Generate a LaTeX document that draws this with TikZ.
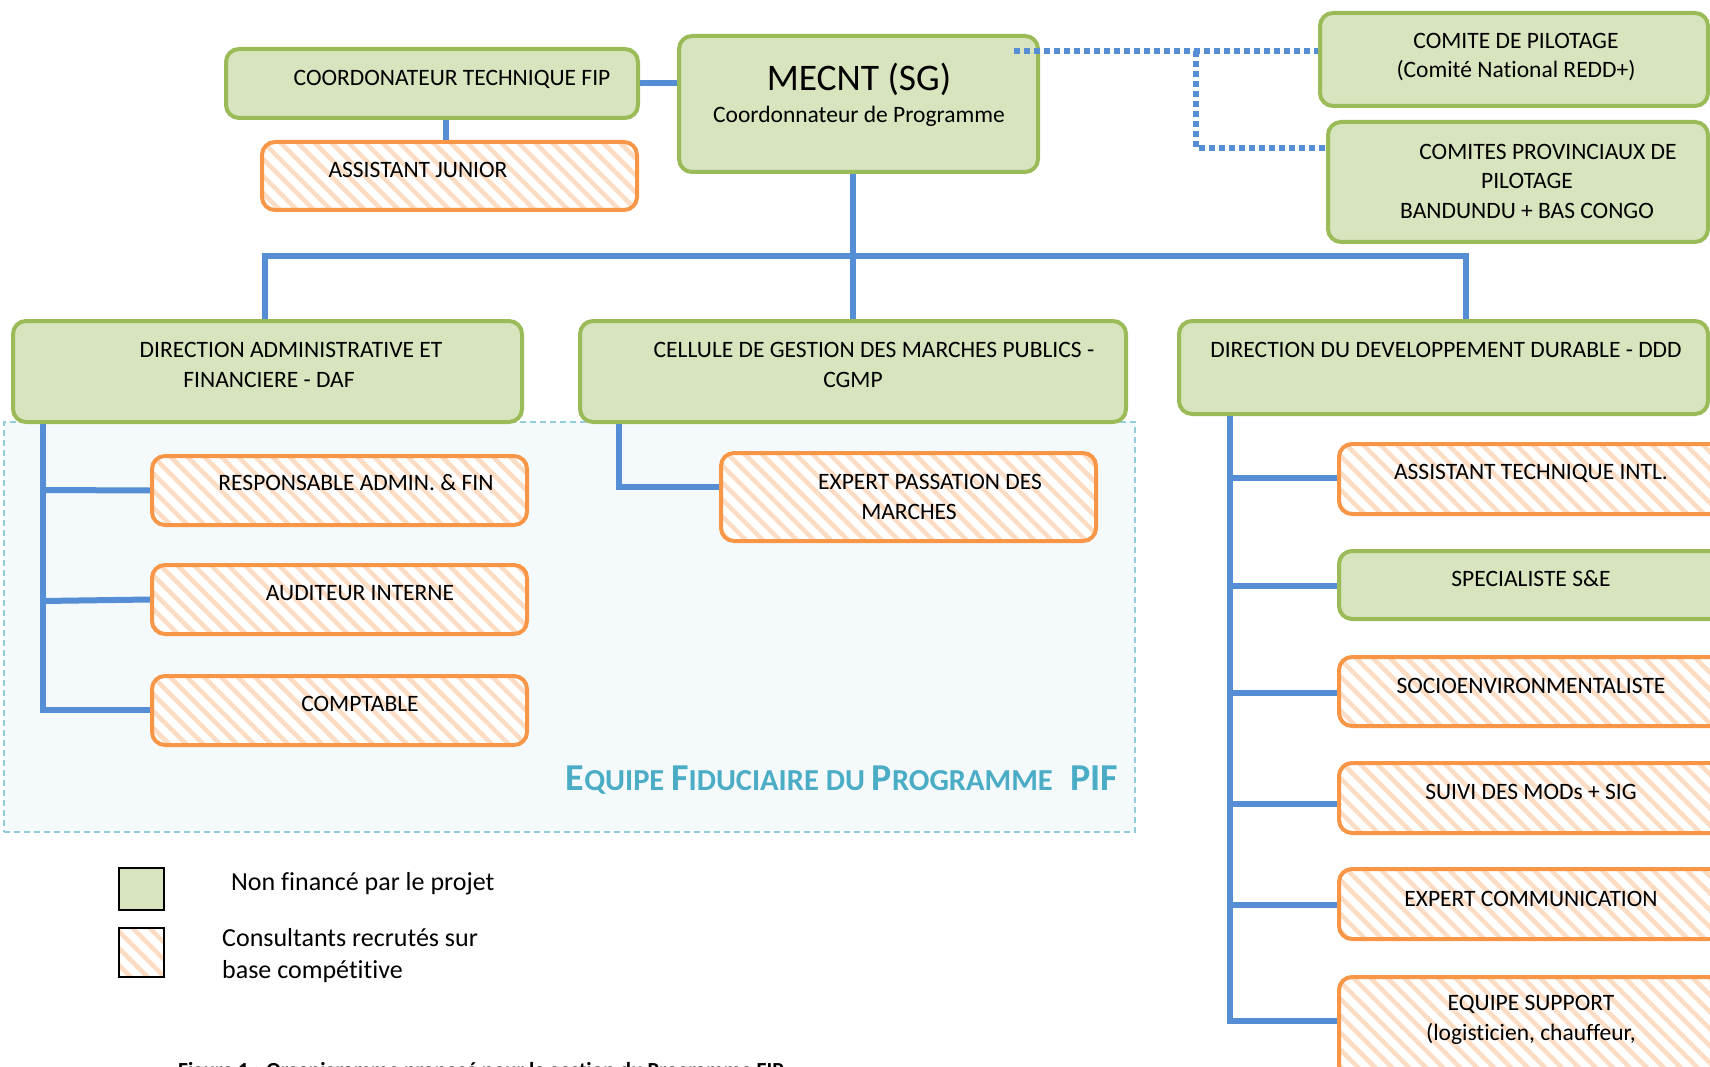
\documentclass[tikz,border=0pt]{standalone}
\usepackage{fontspec}
\setmainfont{Carlito}[Ligatures=NoCommon]
\usetikzlibrary{patterns.meta}
\definecolor{gfill}{HTML}{D7E4BD}
\definecolor{gline}{HTML}{9BBB59}
\definecolor{oline}{HTML}{F79646}
\definecolor{ostripe}{HTML}{FDDCC4}
\definecolor{connc}{HTML}{558ED5}
\definecolor{tealc}{HTML}{4BACC6}
\definecolor{regfill}{HTML}{F4FAFC}
\definecolor{regline}{HTML}{92CDDC}
\tikzset{
 gbox/.style={draw=gline, fill=gfill, line width=4pt, rounded corners=13pt, inner sep=0pt},
 obox/.style={draw=oline, line width=4pt, rounded corners=13pt, inner sep=0pt, preaction={fill=white}, pattern={Lines[angle=-45,distance=12pt,line width=4.5pt]}, pattern color=ostripe},
 txt/.style={font=\fontsize{23.5}{29.5}\selectfont, align=center, inner sep=0pt},
 legtxt/.style={font=\fontsize{26}{32}\selectfont, align=left, inner sep=0pt, anchor=west},
 link/.style={draw=connc, line width=6pt},
 dotlink/.style={draw=connc, line width=6pt, dash pattern=on 6pt off 4pt},
}
\newcommand\bx[6]{\node[#1, minimum width=#4pt, minimum height=#5pt] (#2) at (#3) {};}
\newcommand\bigc{\fontsize{38}{42}\selectfont}
\newcommand\smallc{\fontsize{30.5}{34}\selectfont}
\begin{document}
\begin{tikzpicture}[x=1pt,y=-1pt]
\useasboundingbox (0,0) rectangle (1710,1067);
\clip (0,0) rectangle (1710,1067);
% region
\node[draw=regline, fill=regfill, line width=1.5pt, dash pattern=on 6pt off 4pt, minimum width=1131pt, minimum height=410pt, inner sep=0pt] (region) at (569.5,627) {};
\node[anchor=base east, inner sep=0pt, text=tealc, font=\bfseries] (fidu) at (1118,790)
 {\bigc E\smallc QUIPE \bigc F\smallc IDUCIAIRE DU \bigc P\smallc ROGRAMME\bigc\ \ PIF};
% boxes
\bx{gbox}{ctfip}{432,83.5}{412}{69}{}
\bx{obox}{aj}{449.5,176}{375}{68}{}
\bx{gbox}{mecnt}{858.5,104}{359}{136}{}
\bx{gbox}{cp}{1514,59.5}{388}{93}{}
\bx{gbox}{cpp}{1518,182}{380}{120}{}
\bx{gbox}{daf}{267.5,371.5}{509}{101}{}
\bx{gbox}{cgmp}{853,371.5}{546}{101}{}
\bx{gbox}{ddd}{1443.5,367.5}{529}{93}{}
\bx{obox}{respadm}{339.5,490.5}{375}{69}{}
\bx{obox}{audit}{339.5,599.5}{375}{69}{}
\bx{obox}{compt}{339.5,710.5}{375}{69}{}
\bx{obox}{epm}{908.5,497}{375}{88}{}
\bx{obox}{ati}{1531,479}{384}{70}{}
\bx{gbox}{sse}{1531,585}{384}{68}{}
\bx{obox}{socio}{1531,691.5}{384}{69}{}
\bx{obox}{suivi}{1531,798}{384}{70}{}
\bx{obox}{ecomm}{1531,904}{384}{70}{}
\bx{obox}{esupp}{1531,1033.5}{384}{113}{}
% texts
\node[txt] (t-ctfip) at (452,79) {COORDONATEUR TECHNIQUE FIP};
\node[txt] (t-aj) at (418,170) {ASSISTANT JUNIOR};
\node[txt, font=\fontsize{37.5}{40}\selectfont] (t-mecnt1) at (859,79) {MECNT (SG)};
\node[txt] (t-mecnt2) at (859,116) {Coordonnateur de Programme};
\node[txt] (t-cp) at (1516,57) {COMITE DE PILOTAGE\\(Comité National REDD+)};
\node[txt] (t-cpp) at (1527,181) {\hspace*{42pt}COMITES PROVINCIAUX DE\\PILOTAGE\\BANDUNDU + BAS CONGO};
\node[txt] (t-daf) at (269,365) {\hspace*{44pt}DIRECTION ADMINISTRATIVE ET\\FINANCIERE - DAF};
\node[txt] (t-cgmp) at (853,365) {\hspace*{42pt}CELLULE DE GESTION DES MARCHES PUBLICS -\\CGMP};
\node[txt] (t-ddd) at (1446,350) {DIRECTION DU DEVELOPPEMENT DURABLE - DDD};
\node[txt] (t-respadm) at (356,483) {RESPONSABLE ADMIN. \& FIN};
\node[txt] (t-audit) at (360,593) {AUDITEUR INTERNE};
\node[txt] (t-compt) at (360,704) {COMPTABLE};
\node[txt] (t-epm) at (909,497) {\hspace*{42pt}EXPERT PASSATION DES\\MARCHES};
\node[txt] (t-ati) at (1531,473) {ASSISTANT TECHNIQUE INTL.};
\node[txt] (t-sse) at (1531,579) {SPECIALISTE S\&E};
\node[txt] (t-socio) at (1531,686) {SOCIOENVIRONMENTALISTE};
\node[txt] (t-suivi) at (1531,792) {SUIVI DES MODs + SIG};
\node[txt] (t-ecomm) at (1531,899) {EXPERT COMMUNICATION};
\node[txt] (t-esupp) at (1531,1020) {EQUIPE SUPPORT\\(logisticien, chauffeur,};
% connectors
\draw[link] (ctfip.east) -- (ctfip.east -| mecnt.west);
\draw[link] (ctfip.south -| 446,0) -- (aj.north -| 446,0);
\coordinate (busL) at (265,256);
\coordinate (busR) at (1466,256);
\draw[link] (mecnt.south -| cgmp.north) -- (cgmp.north);
\draw[link] (daf.north -| busL) -- (busL) -- (busR) -- (busR |- ddd.north);
\coordinate (dafbus) at (43,710);
\draw[link] (daf.south -| dafbus) -- (dafbus) -- (compt.west |- dafbus);
\draw[link] (43,490) -- (respadm.west);
\draw[link] (43,601) -- (audit.west);
\coordinate (cgmpk) at (619,487);
\draw[link] (cgmp.south -| cgmpk) -- (cgmpk) -- (epm.west |- cgmpk);
\coordinate (dddbus) at (1230,1021);
\draw[link] (ddd.south -| dddbus) -- (dddbus) -- (esupp.west |- dddbus);
\draw[link] (1230,478) -- (ati.west |- 0,478);
\draw[link] (1230,586) -- (sse.west |- 0,586);
\draw[link] (1230,693) -- (socio.west |- 0,693);
\draw[link] (1230,804) -- (suivi.west |- 0,804);
\draw[link] (1230,905) -- (ecomm.west |- 0,905);
\coordinate (dotA) at (1014,51);
\coordinate (dotB) at (1196,51);
\coordinate (dotC) at (1196,148);
\draw[dotlink] (dotA) -- (cp.west |- dotA);
\draw[dotlink] (dotB) -- (dotC) -- (cpp.west |- dotC);
% legend
\node[draw=black, line width=2pt, fill=gfill, minimum width=45pt, minimum height=42pt, inner sep=0pt] (leg1) at (141.5,889) {};
\node[draw=black, line width=2pt, preaction={fill=white}, pattern={Lines[angle=-45,distance=12pt,line width=4.5pt]}, pattern color=ostripe, minimum width=45pt, minimum height=49pt, inner sep=0pt] (leg2) at (141.5,952.5) {};
\node[legtxt] (leg1t) at (231,884) {Non financé par le projet};
\node[legtxt] (leg2t) at (222,956) {Consultants recrutés sur\\base compétitive};
\node[anchor=base west, inner sep=0pt, font=\bfseries\fontsize{21.5}{24}\selectfont] (caption) at (178,1077) {Figure 1 : Organigramme proposé pour la gestion du Programme FIP};
\end{tikzpicture}
\end{document}
